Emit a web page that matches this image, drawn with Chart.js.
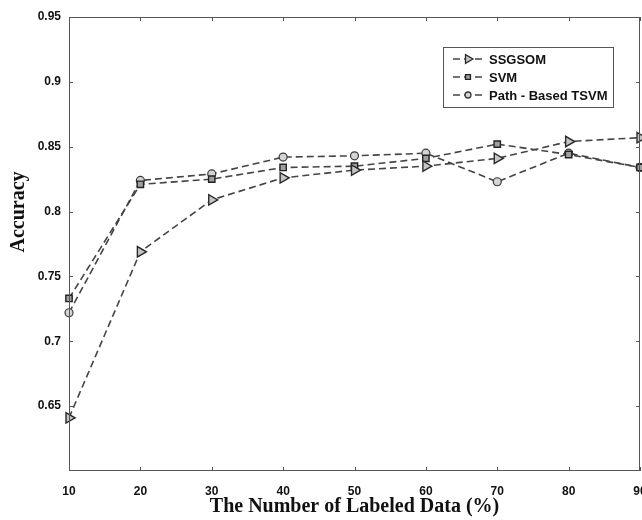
<!DOCTYPE html>
<html>
<head>
<meta charset="utf-8">
<script src="https://cdn.jsdelivr.net/npm/chart.js@4.4.0/dist/chart.umd.min.js"></script>
<style>
  html, body { margin: 0; padding: 0; background: #fff; overflow: hidden; }
  #wrap { width: 650px; height: 520px; }
</style>
</head>
<body>
<div id="wrap"><canvas id="myChart" width="650" height="520"></canvas></div>
<script>
// Chart values
const labeled = [10, 20, 30, 40, 50, 60, 70, 80, 90];
const ssgsom = [0.641, 0.769, 0.809, 0.826, 0.832, 0.835, 0.841, 0.854, 0.857];
const svm = [0.733, 0.821, 0.825, 0.834, 0.835, 0.841, 0.852, 0.844, 0.834];
const pathTsvm = [0.722, 0.824, 0.829, 0.842, 0.843, 0.845, 0.823, 0.845, 0.834];
const seriesNames = ['SSGSOM', 'SVM', 'Path - Based TSVM'];
const yTicks = [0.65, 0.7, 0.75, 0.8, 0.85, 0.9, 0.95];

const ctx = document.getElementById('myChart');
const lineColor = '#444';

function toPoints(vals) {
  return labeled.map((x, i) => ({ x: x, y: vals[i] }));
}

// frame, inward ticks, y title and legend box
const decor = {
  id: 'decor',
  afterDraw(chart) {
    const c = chart.ctx;
    const a = chart.chartArea;
    const xs = chart.scales.x, ys = chart.scales.y;
    c.save();
    c.strokeStyle = '#555';
    c.lineWidth = 1;
    c.strokeRect(a.left + 0.5, a.top + 0.5, a.right - a.left - 1, a.bottom - a.top - 1);
    c.beginPath();
    labeled.forEach(v => {
      const px = Math.round(xs.getPixelForValue(v)) + 0.5;
      c.moveTo(px, a.bottom); c.lineTo(px, a.bottom - 4);
      c.moveTo(px, a.top); c.lineTo(px, a.top + 4);
    });
    yTicks.forEach(v => {
      const py = Math.round(ys.getPixelForValue(v)) + 0.5;
      c.moveTo(a.left, py); c.lineTo(a.left + 4, py);
      c.moveTo(a.right, py); c.lineTo(a.right - 4, py);
    });
    c.stroke();

    // y title
    c.fillStyle = '#111';
    c.font = 'bold 20px "Liberation Serif", "Times New Roman", serif';
    c.textAlign = 'center';
    c.textBaseline = 'middle';
    c.translate(19, 212);
    c.rotate(-Math.PI / 2);
    c.fillText('Accuracy', 0, 0);
    c.restore();

    // legend
    c.save();
    const bx = 443, by = 47, bw = 170, bh = 60;
    c.fillStyle = '#fff';
    c.fillRect(bx, by, bw, bh);
    c.strokeStyle = '#555';
    c.lineWidth = 1;
    c.strokeRect(bx + 0.5, by + 0.5, bw, bh);
    chart.data.datasets.forEach((ds, i) => {
      const y = 59 + i * 18;
      c.strokeStyle = lineColor;
      c.lineWidth = 1.6;
      c.setLineDash([7, 4]);
      c.beginPath();
      c.moveTo(453, y); c.lineTo(485, y);
      c.stroke();
      c.setLineDash([]);
      c.fillStyle = ds.pointBackgroundColor;
      c.strokeStyle = ds.pointBorderColor;
      c.lineWidth = 1.3;
      Chart.helpers.drawPoint(c, {
        pointStyle: ds.pointStyle,
        radius: ds.pointRadius - 1,
        rotation: ds.pointRotation || 0,
        borderWidth: 1.3
      }, 468, y);
      c.fillStyle = '#111';
      c.font = 'bold 13px "Liberation Sans", Arial, sans-serif';
      c.textAlign = 'left';
      c.textBaseline = 'middle';
      c.fillText(ds.label, 489, y + 1);
    });
    c.restore();
  }
};

let myChart = new Chart(ctx, {
  type: 'line',
  data: {
    datasets: [{
      label: seriesNames[0],
      data: toPoints(ssgsom),
      borderColor: lineColor,
      borderWidth: 1.6,
      borderDash: [7, 4],
      pointStyle: 'triangle',
      pointRotation: 90,
      pointRadius: 6,
      pointBackgroundColor: '#c4c4c4',
      pointBorderColor: '#2a2a2a',
      pointBorderWidth: 1.4
    }, {
      label: seriesNames[1],
      data: toPoints(svm),
      borderColor: lineColor,
      borderWidth: 1.6,
      borderDash: [7, 4],
      pointStyle: 'rect',
      pointRadius: 4.5,
      pointBackgroundColor: '#a0a0a0',
      pointBorderColor: '#222',
      pointBorderWidth: 1.4
    }, {
      label: seriesNames[2],
      data: toPoints(pathTsvm),
      borderColor: lineColor,
      borderWidth: 1.6,
      borderDash: [7, 4],
      pointStyle: 'circle',
      pointRadius: 4,
      pointBackgroundColor: '#d4d4d4',
      pointBorderColor: '#3a3a3a',
      pointBorderWidth: 1.2
    }]
  },
  options: {
    responsive: false,
    animation: false,
    clip: false,
    layout: { padding: { top: 17, left: 0, right: 10, bottom: 0 } },
    plugins: {
      legend: { display: false },
      tooltip: { enabled: false }
    },
    scales: {
      x: {
        type: 'linear',
        min: 10,
        max: 90,
        grid: { display: false },
        border: { display: false },
        ticks: {
          stepSize: 10,
          padding: 5,
          color: '#111',
          font: { family: '"Liberation Sans", Arial, sans-serif', size: 12, weight: 'bold' }
        },
        title: {
          display: true,
          text: 'The Number of Labeled Data (%)',
          color: '#111',
          padding: { top: 2, bottom: 1 },
          font: { family: '"Liberation Serif", "Times New Roman", serif', size: 20, weight: 'bold' }
        },
        afterFit(scale) {
          scale.height = 49;
          scale.paddingLeft = 0;
          scale.paddingRight = 0;
        }
      },
      y: {
        min: 0.6,
        max: 0.95,
        grid: { display: false },
        border: { display: false },
        afterBuildTicks(scale) {
          scale.ticks = [0.6].concat(yTicks).map(v => ({ value: v }));
        },
        ticks: {
          padding: 0,
          color: '#111',
          font: { family: '"Liberation Sans", Arial, sans-serif', size: 12, weight: 'bold' },
          callback: v => (Math.abs(v - 0.6) < 1e-6 ? '' : String(Number(v.toFixed(2))))
        },
        afterFit(scale) { scale.width = 69; }
      }
    }
  },
  plugins: [decor]
});
</script>
</body>
</html>
